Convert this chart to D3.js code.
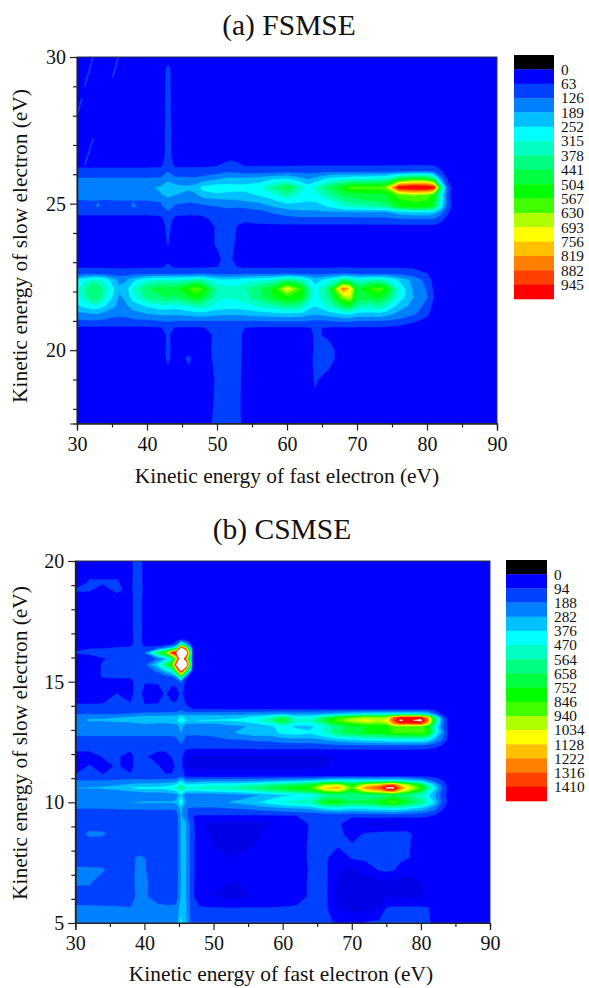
<!DOCTYPE html>
<html><head><meta charset="utf-8">
<script src="https://cdn.jsdelivr.net/npm/d3@7"></script>
<style>
html,body{margin:0;padding:0;background:#fff}
svg{display:block}
text{font-family:"Liberation Serif","Times New Roman",serif;fill:#111}
</style></head><body><div id="chart"></div>
<script>
const legendColors=["#000000","#0000ff","#0040ff","#0080ff","#00c0ff","#00ffff","#00ffc0","#00ff80","#00ff40","#00ff00","#40ff00","#b0ff00","#ffff00","#ffc000","#ff8000","#ff4000","#ff0000"];
const fsmseLevels=[0,63,126,189,252,315,378,441,504,567,630,693,756,819,882,945];
const csmseLevels=[0,94,188,282,376,470,564,658,752,846,940,1034,1128,1222,1316,1410];
const xTicks=[30,40,50,60,70,80,90];
const xMinor=[35,45,55,65,75,85];
const fsmseYTicks=[20,25,30];
const fsmseYMinor=[18,19,21,22,23,24,26,27,28,29];
const csmseYTicks=[5,10,15,20];
const csmseYMinor=[6,7,8,9,11,12,13,14,16,17,18,19];
const fsmseStreaks=[[32.3,30,31.1,29],[30.7,28.6,30,28],[35.9,30,35.1,29.3],[32.3,27.2,31.1,26.3]];
const fsmseX=[30,32,33,34,36,37,38,40,42,43,44,46,47,48,50,51,52,53,54,56,58,60,62,63,64,66,68,69,70,72,73,74,76,78,80,81,82,83,84,90];
const fsmseY=[30,29.6,26.6,26.35,26.1,25.85,25.55,25.3,25.1,24.9,24.7,24.45,24.2,23.6,23.1,22.85,22.6,22.4,22.1,21.8,21.5,21.25,21,20.75,20.5,20,19.7,19,18,17.5];
// rows are read left to right; a short row continues with its last value (the background)
const fsmseGrid=[
[30],
[30,30,30,30,30,30,30,30,30,80,30],
[30,30,30,30,30,30,30,30,30,90,30,30,30,30,30,30,45,30],
[45,45,45,45,45,45,45,45,45,110,45,45,45,45,50,70,80,70,50,50,50,50,50,50,50,50,50,50,50,50,50,50,50,50,50,50,35,30,30,30],
[80,80,80,80,80,80,80,80,85,125,85,85,85,85,95,110,115,105,95,95,95,100,105,105,105,110,110,110,110,110,110,110,115,125,130,120,70,35,30,30],
[130,130,130,130,130,130,130,130,135,170,140,135,135,150,180,195,205,200,200,210,240,255,205,180,205,265,290,295,300,310,320,330,450,520,500,400,160,50,30,30],
[170,170,170,170,170,170,170,175,200,235,210,200,220,270,290,285,280,280,280,300,380,475,340,280,330,440,530,590,600,600,600,620,1000,1040,1040,980,420,90,30,30],
[160,160,160,160,160,160,160,165,185,205,190,170,180,230,240,235,230,230,230,260,300,380,290,270,290,380,450,460,470,480,485,490,610,640,620,540,300,80,30,30],
[120,125,125,120,125,125,125,125,130,170,135,130,135,150,170,175,180,185,190,210,240,285,265,255,260,300,380,410,420,440,450,470,545,575,565,510,300,90,30,30],
[110,115,130,115,110,110,130,115,115,150,120,115,115,115,125,130,130,130,135,150,190,215,220,220,220,260,310,330,340,360,370,380,500,540,520,470,280,90,30,30],
[80,80,80,80,80,80,80,80,85,115,85,80,80,85,100,110,115,105,100,110,130,150,170,170,170,170,170,170,170,170,170,170,220,240,240,220,150,70,30,30],
[35,35,35,35,35,35,35,35,40,105,40,35,35,40,90,115,115,90,75,90,95,100,100,100,100,100,100,100,100,105,105,105,110,110,110,110,80,40,30,30],
[30,30,30,30,30,30,30,30,30,85,30,30,30,30,70,100,105,50,40,40,40,40,40,40,40,40,40,40,40,40,40,40,40,40,40,40,30,30,30,30],
[30,30,30,30,30,30,30,30,30,65,30,30,30,30,70,80,85,40,30],
[30,30,30,30,30,30,30,30,30,40,30,30,30,30,45,75,70,30],
[50,50,50,50,50,50,50,50,50,80,50,50,50,50,60,85,85,60,50,50,50,50,50,50,50,50,55,55,50,50,50,50,50,50,35,30,30,30,30,30],
[115,120,120,115,100,100,110,120,125,125,125,125,130,130,120,120,120,120,125,125,125,130,125,120,115,125,130,130,125,125,125,125,115,100,65,40,30,30,30,30],
[260,330,335,290,170,180,230,300,320,320,320,340,370,350,270,260,260,270,280,300,320,400,350,280,220,280,400,380,310,340,350,330,240,170,100,40,30,30,30,30],
[300,440,440,350,200,220,320,440,480,480,480,570,630,560,370,340,330,340,370,430,520,720,570,400,280,420,860,760,480,570,610,560,310,180,120,50,30,30,30,30],
[280,410,420,330,180,200,290,400,430,440,430,490,530,480,340,320,320,330,350,420,500,560,530,390,280,400,640,680,470,480,510,470,290,190,130,60,30,30,30,30],
[240,290,290,250,170,180,210,260,290,290,280,320,350,340,290,280,280,280,290,320,350,400,370,290,250,330,460,480,370,340,370,340,220,170,100,40,30,30,30,30],
[170,190,190,170,140,145,170,190,205,205,200,215,230,230,210,205,205,205,210,225,235,245,240,210,195,225,260,270,240,230,240,225,170,140,80,30,30,30,30,30],
[115,120,120,110,105,105,110,115,125,130,125,125,125,125,125,125,125,125,125,125,130,130,130,125,120,125,135,135,125,125,125,120,110,75,40,30,30,30,30,30],
[50,50,50,50,50,50,50,50,55,90,55,50,50,55,95,105,110,105,60,50,50,50,50,55,70,55,50,55,50,50,50,50,40,30,30,30,30,30,30,30],
[30,30,30,30,30,30,30,30,30,75,30,30,30,30,80,105,110,100,30,30,30,30,30,30,75,50,30],
[30,30,30,30,30,30,30,30,30,80,30,50,30,30,85,110,110,95,30,30,30,30,30,30,70,85,30],
[30,30,30,30,30,30,30,30,30,75,30,75,30,30,80,105,110,90,30,30,30,30,30,30,80,85,30],
[30,30,30,30,30,30,30,30,30,30,30,30,30,30,70,100,105,85,30,30,30,30,30,30,70,40,30],
[30,30,30,30,30,30,30,30,30,30,30,30,30,30,75,100,110,80,30,30,30,30,30,30,45,30],
[30,30,30,30,30,30,30,30,30,30,30,30,30,30,85,105,110,90,30,30,30,30,30,30,50,30]
];
const csmseX=[30,32,34,36,38,38.7,39.3,40,42,43,44,44.6,45.3,46,47,48,50,52,54,56,58,60,62,64,66,68,70,72,74,75,76,77,78,80,81,82,83,84,90];
const csmseY=[20,19.1,18.8,18.4,17.2,16.75,16.55,16.4,16.2,15.95,15.7,15.45,15.2,15,14.5,14,13.85,13.65,13.52,13.4,13.28,13.15,12.88,12.6,12.35,12.15,11.9,11.5,11.1,10.9,10.72,10.6,10.48,10.3,10,9.75,9.45,9.1,8.7,8.2,7.7,7.2,6.7,6.1,5.6,5];
const csmseGrid=[
[60,60,60,60,60,130,130,60],
[60,100,100,100,70,130,130,60],
[100,100,70,110,70,130,130,70,60],
[60,60,60,60,60,125,125,60],
[60,60,60,60,60,125,125,60],
[60,60,60,60,60,120,120,60,60,60,60,70,90,70,60],
[60,60,60,60,60,130,130,60,60,60,90,160,600,300,60],
[70,90,90,100,110,130,130,110,130,250,350,520,1600,1100,60],
[100,110,120,120,130,150,150,190,700,850,1450,1500,2200,1900,60],
[60,60,90,110,120,130,130,120,200,320,520,1000,1800,1200,60],
[60,60,100,110,120,130,130,150,400,620,860,1520,2200,1900,60],
[60,60,100,110,115,125,125,120,220,340,450,900,1560,900,50,60],
[60,60,100,105,105,125,125,110,110,140,180,260,700,130,40,60],
[60,60,60,70,60,120,120,100,100,100,105,120,200,70,60],
[60,60,70,95,60,120,120,60,70,100,70,60,110,60],
[100,100,100,105,105,125,125,100,100,105,105,110,150,100,60],
[110,110,110,110,110,120,120,110,110,110,110,120,170,105,95,95,95,95,95,95,95,95,95,95,95,95,95,95,95,95,95,95,95,95,90,70,60,60,60],
[180,190,190,190,200,210,210,220,230,240,240,250,270,250,250,250,250,250,260,270,280,300,280,280,300,340,380,420,430,430,440,440,440,430,390,220,90,60,60],
[240,270,270,280,290,310,320,330,330,330,330,340,400,340,330,340,340,350,360,400,500,680,430,440,620,820,900,980,940,980,1300,1420,1420,1430,1200,620,210,60,60],
[250,290,290,300,310,330,340,350,350,350,350,360,430,380,370,380,380,390,400,450,560,750,500,510,720,900,1000,1060,1020,1050,1350,1530,1470,1550,1300,700,250,60,60],
[230,260,260,270,270,280,280,290,280,280,290,300,380,300,290,290,290,310,340,380,460,620,440,440,600,800,880,940,920,960,1250,1410,1400,1420,1150,620,240,60,60],
[200,220,230,230,230,240,240,240,230,230,240,240,310,240,230,230,230,250,270,300,350,420,350,350,470,620,700,750,760,800,900,920,920,900,780,500,220,60,60],
[205,205,205,205,205,205,205,205,205,205,205,210,285,200,200,200,210,260,300,350,330,400,420,390,480,640,700,760,780,800,850,860,860,880,830,500,280,75,60],
[165,170,170,170,170,170,170,170,170,170,170,175,230,165,165,165,170,180,190,200,210,240,250,250,290,340,370,400,420,430,450,450,450,450,420,300,200,70,60],
[130,130,130,130,130,130,130,130,130,130,130,135,170,120,120,120,130,130,130,135,135,140,140,140,150,160,170,170,170,170,170,170,170,170,150,130,90,60,60],
[100,100,100,100,100,100,100,100,100,100,100,105,125,85,75,75,75,75,75,75,75,75,75,75,75,75,75,75,75,75,75,75,75,70,65,60,60,60,60],
[60,60,100,105,60,115,115,105,60,60,100,110,115,30,20,20,20,20,20,20,20,20,20,20,25,35,50,55,55,55,55,55,55,55,55,60,60,60,60],
[60,100,60,105,60,115,115,100,100,60,60,110,115,30,20,20,20,20,20,20,20,20,20,20,25,35,50,55,55,55,55,55,55,55,55,60,60,60,60],
[100,100,100,105,105,115,115,105,105,105,105,115,150,75,50,50,50,50,50,50,50,50,50,50,55,60,60,60,60,60,60,60,60,60,60,60,60,60,60],
[190,190,190,200,210,215,215,215,220,220,225,240,350,230,230,240,240,240,240,250,270,290,310,330,390,420,410,410,410,420,420,410,380,320,230,150,100,60,60],
[230,240,250,270,300,310,320,320,320,340,360,400,520,400,400,420,440,450,470,520,570,630,680,740,960,1040,780,1060,1170,1300,1350,1130,1000,760,520,330,170,60,60],
[280,290,300,330,370,390,400,400,400,420,440,480,640,480,480,500,530,540,570,620,680,740,800,850,1130,1210,880,1250,1350,1530,1550,1280,1100,850,600,400,200,60,60],
[220,230,240,260,290,300,310,320,320,330,350,390,500,380,380,390,410,420,450,500,560,620,670,720,930,1020,780,1050,1160,1280,1330,1120,980,730,510,340,180,60,60],
[195,195,195,200,200,200,200,210,210,210,220,240,360,200,200,200,200,220,240,270,300,350,380,420,530,570,560,570,580,620,650,620,590,500,400,280,150,60,60],
[200,200,215,250,280,285,285,290,290,290,290,300,450,250,240,240,240,280,310,350,420,480,500,540,780,800,680,700,780,820,900,820,760,600,500,350,180,70,60],
[190,190,190,195,200,200,200,200,200,200,200,215,310,190,180,175,175,185,195,215,240,260,280,300,390,420,380,390,420,430,450,430,400,340,280,220,110,60,60],
[105,105,105,120,130,130,130,125,125,125,125,130,290,200,95,85,85,85,85,85,85,90,95,100,100,110,110,115,115,115,115,110,110,105,100,85,60,60,60],
[120,120,120,120,120,120,120,120,120,120,120,125,290,285,110,40,15,15,15,15,25,60,60,100,115,110,30,15,15,15,15,20,40,50,55,60,60,60,60],
[130,210,205,120,120,120,120,120,120,120,120,125,290,285,110,60,15,15,15,15,60,60,60,100,115,110,70,100,110,115,115,115,110,60,60,60,60,60,60],
[120,120,120,120,120,130,130,125,120,120,120,125,290,285,105,60,30,15,15,30,60,30,60,105,115,100,100,115,120,120,120,120,105,60,60,60,60,60,60],
[120,120,120,120,120,190,200,190,130,130,125,125,290,285,105,60,60,30,40,40,60,40,60,105,115,40,100,115,120,120,120,115,100,60,60,60,60,60,60],
[210,210,200,120,120,195,215,195,135,135,125,125,290,285,105,60,60,30,30,40,30,40,30,105,115,30,15,40,100,105,100,60,40,50,60,60,60,60,60],
[205,205,130,120,120,200,215,205,140,140,130,130,290,285,105,50,40,30,30,30,30,30,60,105,115,20,15,15,15,15,15,15,15,30,55,60,60,60,60],
[140,130,100,100,120,190,215,200,150,135,130,140,295,285,105,40,30,15,15,40,30,30,60,105,115,15,15,15,15,15,15,15,15,20,40,60,60,60,60],
[205,210,210,210,195,210,215,215,210,210,210,215,340,290,115,105,100,100,100,100,100,105,105,110,115,30,15,15,30,100,110,110,110,110,100,60,60,60,60],
[215,215,215,215,215,220,220,220,215,215,215,220,400,300,120,120,120,120,120,120,120,120,120,120,120,80,60,100,110,120,120,120,120,115,110,65,60,60,60]
];
const xLabel="Kinetic energy of fast electron (eV)";
const yLabel="Kinetic energy of slow electron (eV)";

const svg=d3.select("#chart").append("svg").attr("width",589).attr("height",988);
const defs=svg.append("defs");
defs.append("filter").attr("id","soft").attr("x","-2%").attr("y","-2%").attr("width","104%").attr("height","104%")
  .append("feGaussianBlur").attr("stdDeviation",0.55);

function panel(o){
  const x=d3.scaleLinear().domain([30,90]).range([o.l,o.r]);
  const y=d3.scaleLinear().domain(o.yDomain).range([o.b,o.t]);
  const nx=o.xs.length, ny=o.ys.length;
  if(o.grid.length!==ny)throw new Error(o.id+" rows "+o.grid.length);
  const rows=o.grid.map((r,i)=>{
    if(r.length>nx||(r.length>=30&&r.length<nx))throw new Error(o.id+" row "+i+" has "+r.length);
    return d3.range(nx).map(j=>j<r.length?r[j]:r[r.length-1]);
  });
  const ix=d3.scaleLinear().domain(d3.range(nx)).range(o.xs).clamp(true);
  const iy=d3.scaleLinear().domain(d3.range(ny)).range(o.ys).clamp(true);
  const path=d3.geoPath(d3.geoTransform({point(px,py){this.stream.point(x(ix(px-0.5)),y(iy(py-0.5)));}}));
  const contours=d3.contours().size([nx,ny]).smooth(true).thresholds(o.thresholds)(rows.flat());
  defs.append("clipPath").attr("id","clip"+o.id).append("rect")
    .attr("x",o.l).attr("y",o.t).attr("width",o.r-o.l).attr("height",o.b-o.t);
  const g=svg.append("g").attr("clip-path","url(#clip"+o.id+")");
  const inner=g.append("g").attr("filter","url(#soft)");
  inner.selectAll("path.c").data(contours).join("path").attr("class","c")
    .attr("d",path).attr("fill",(d,i)=>o.fills[i]).attr("stroke",(d,i)=>o.fills[i]).attr("stroke-width",0.3);
  inner.selectAll("line.s").data(o.streaks||[]).join("line").attr("class","s")
    .attr("x1",d=>x(d[0])).attr("y1",d=>y(d[1])).attr("x2",d=>x(d[2])).attr("y2",d=>y(d[3]))
    .attr("stroke",legendColors[2]).attr("stroke-width",1.6);
  svg.append("rect").attr("x",o.l).attr("y",o.t).attr("width",o.r-o.l).attr("height",o.b-o.t)
    .attr("fill","none").attr("stroke","#333").attr("stroke-width",1);
  const styleAxis=s=>{s.selectAll("path").attr("stroke","#222").attr("stroke-width",1.2);
    s.selectAll("line").attr("stroke","#222").attr("stroke-width",1.2);
    s.selectAll("text").attr("font-family",'"Liberation Serif"').attr("font-size",20).attr("fill","#111");};
  svg.append("g").attr("transform",`translate(0,${o.b})`)
    .call(d3.axisBottom(x).tickValues(xTicks).tickSize(7).tickPadding(6).tickFormat(d3.format("d"))).call(styleAxis);
  svg.append("g").attr("transform",`translate(0,${o.b})`)
    .call(d3.axisBottom(x).tickValues(xMinor).tickSize(4).tickFormat("")).call(styleAxis);
  svg.append("g").attr("transform",`translate(${o.l},0)`)
    .call(d3.axisLeft(y).tickValues(o.yTicks).tickSize(7).tickPadding(4).tickFormat(d3.format("d"))).call(styleAxis);
  svg.append("g").attr("transform",`translate(${o.l},0)`)
    .call(d3.axisLeft(y).tickValues(o.yMinor).tickSize(4).tickFormat("")).call(styleAxis);
  svg.append("text").attr("x",o.titleX).attr("y",o.titleY).attr("text-anchor","middle").attr("font-size",29.5).text(o.title);
  svg.append("text").attr("x",o.xLabelX).attr("y",o.xLabelY).attr("text-anchor","middle").attr("font-size",21.4).text(xLabel);
  svg.append("text").attr("transform",`translate(${o.yLabelX},${o.yLabelY}) rotate(-90)`).attr("text-anchor","middle").attr("font-size",21.4).text(yLabel);
  const band=d3.scaleBand().domain(d3.range(legendColors.length)).range([o.legT,o.legB]);
  svg.append("g").selectAll("rect").data(legendColors).join("rect")
    .attr("x",o.legL).attr("width",o.legR-o.legL).attr("y",(d,i)=>band(i)).attr("height",band.bandwidth()+0.3).attr("fill",d=>d);
  svg.append("g").selectAll("text").data(o.levels).join("text")
    .attr("x",o.legR+7).attr("y",(d,i)=>band(i+1)).attr("dy","0.35em").attr("font-size",15.3).text(d=>d);
}

panel({id:"a",title:"(a) FSMSE",xs:fsmseX,ys:fsmseY,grid:fsmseGrid,levels:fsmseLevels,streaks:fsmseStreaks,
  thresholds:fsmseLevels,fills:legendColors.slice(1),
  yDomain:[17.5,30],yTicks:fsmseYTicks,yMinor:fsmseYMinor,
  l:77,r:497,t:57,b:423.5,titleX:289,titleY:35,xLabelX:287,xLabelY:483,yLabelX:27,yLabelY:246,
  legL:514,legR:554,legT:55,legB:299});
panel({id:"b",title:"(b) CSMSE",xs:csmseX,ys:csmseY,grid:csmseGrid,levels:csmseLevels,
  thresholds:[0,30,...csmseLevels.slice(1),1504],
  fills:["#0000e6","#0000ff",...legendColors.slice(2),"#ffffff"],
  yDomain:[5,20],yTicks:csmseYTicks,yMinor:csmseYMinor,
  l:75.3,r:490,t:561,b:923,titleX:282,titleY:539,xLabelX:281,xLabelY:981,yLabelX:27,yLabelY:743,
  legL:506,legR:547,legT:560,legB:801});
</script></body></html>
